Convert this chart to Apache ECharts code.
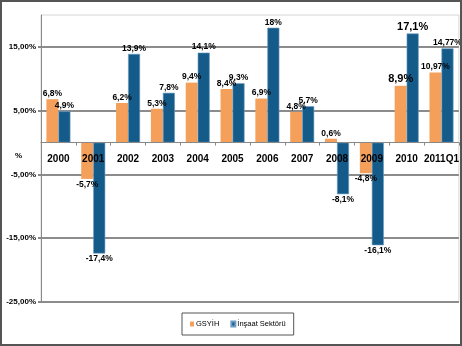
<!DOCTYPE html>
<html>
<head>
<meta charset="utf-8">
<script src="https://cdn.jsdelivr.net/npm/echarts@6/dist/echarts.min.js"></script>
<style>
html,body{margin:0;padding:0;background:#fff;}
#chart{width:462px;height:346px;}
</style>
</head>
<body>
<div id="chart"></div>
<script>
var categories = ['2000','2001','2002','2003','2004','2005','2006','2007','2008','2009','2010','2011Q1'];
var gsyih = [6.8, -5.7, 6.2, 5.3, 9.4, 8.4, 6.9, 4.8, 0.6, -4.8, 8.9, 10.97];
var insaat = [4.9, -17.4, 13.9, 7.8, 14.1, 9.3, 18, 5.7, -8.1, -16.1, 17.1, 14.77];
var seriesNames = ['GSYİH', 'İnşaat Sektörü'];
var yMin = -25, yMax = 20, yStep = 10;

var FONT = "'Liberation Sans','Arial',sans-serif";
var GRID_TOP = 15, GRID_BOTTOM = 44, H = 346;
var plotH = H - GRID_TOP - GRID_BOTTOM;
var zeroFromBottom = plotH * (0 - yMin) / (yMax - yMin);

function fmt(v){ return String(v).replace('.', ',') + '%'; }
function buildData(arr){
  return arr.map(function(v, i){
    var big = (i === 10);
    return {
      value: v,
      label: {
        position: v >= 0 ? 'top' : 'bottom',
        fontSize: big ? 11 : 8.5
      }
    };
  });
}

var chart = echarts.init(document.getElementById('chart'), null, {renderer:'canvas'});
chart.setOption({
  animation: false,
  backgroundColor: '#fff',
  textStyle: { fontFamily: FONT },
  graphic: [
    { type: 'rect', shape: { x: 1, y: 1, width: 460, height: 344 }, style: { fill: 'none', stroke: '#555', lineWidth: 2 }, z: 100 },
    { type: 'text', left: 15, top: 152, style: { text: '%', fontSize: 8, fontWeight: 'bold', fill: '#000', fontFamily: FONT } }
  ],
  legend: {
    left: 182, top: 313,
    padding: [7, 8],
    borderColor: '#555', borderWidth: 1,
    itemWidth: 4, itemHeight: 5, itemGap: 11,
    icon: 'rect',
    textStyle: { fontSize: 7.5, color: '#000', fontFamily: FONT, padding: [0,0,0,-3] },
    data: seriesNames
  },
  grid: {
    left: 41, right: 3, top: GRID_TOP, bottom: GRID_BOTTOM,
    show: true, borderColor: '#d6d6d6', borderWidth: 1
  },
  xAxis: {
    type: 'category',
    data: categories,
    position: 'bottom',
    offset: -zeroFromBottom,
    z: 10,
    axisLine: { onZero: false, lineStyle: { color: '#888', width: 1 } },
    axisTick: { show: true, length: 3, lineStyle: { color: '#888' } },
    axisLabel: { interval: 0, hideOverlap: false, margin: 12, fontSize: 10, fontWeight: 'bold', color: '#000', fontFamily: FONT }
  },
  yAxis: {
    type: 'value',
    min: yMin, max: yMax, interval: yStep,
    axisLine: { show: true, lineStyle: { color: '#888', width: 1 } },
    axisTick: { show: true, length: 3, lineStyle: { color: '#888', width: 2 } },
    splitLine: { show: true, showMaxLine: false, lineStyle: { color: '#8c8c8c', width: 2 } },
    axisLabel: {
      showMaxLabel: false,
      margin: 5, fontSize: 8, fontWeight: 'bold', color: '#000', fontFamily: FONT,
      formatter: function(v){ return v === yMax ? '' : v.toFixed(2).replace('.', ',') + '%'; }
    }
  },
  series: [
    {
      name: seriesNames[0], type: 'bar', data: buildData(gsyih),
      barWidth: 12, barGap: '0%',
      itemStyle: { color: '#F5A05A' },
      label: { show: true, distance: 1, fontSize: 8.5, fontWeight: 'bold', color: '#000', fontFamily: FONT, formatter: function(p){ return fmt(p.value); } }
    },
    {
      name: seriesNames[1], type: 'bar', data: buildData(insaat),
      barWidth: 12, barGap: '0%',
      itemStyle: { color: '#155B8A', borderColor: '#6c9cc4', borderWidth: 0.6 },
      label: { show: true, distance: 1, fontSize: 8.5, fontWeight: 'bold', color: '#000', fontFamily: FONT, formatter: function(p){ return fmt(p.value); } }
    }
  ]
});
</script>
</body>
</html>
